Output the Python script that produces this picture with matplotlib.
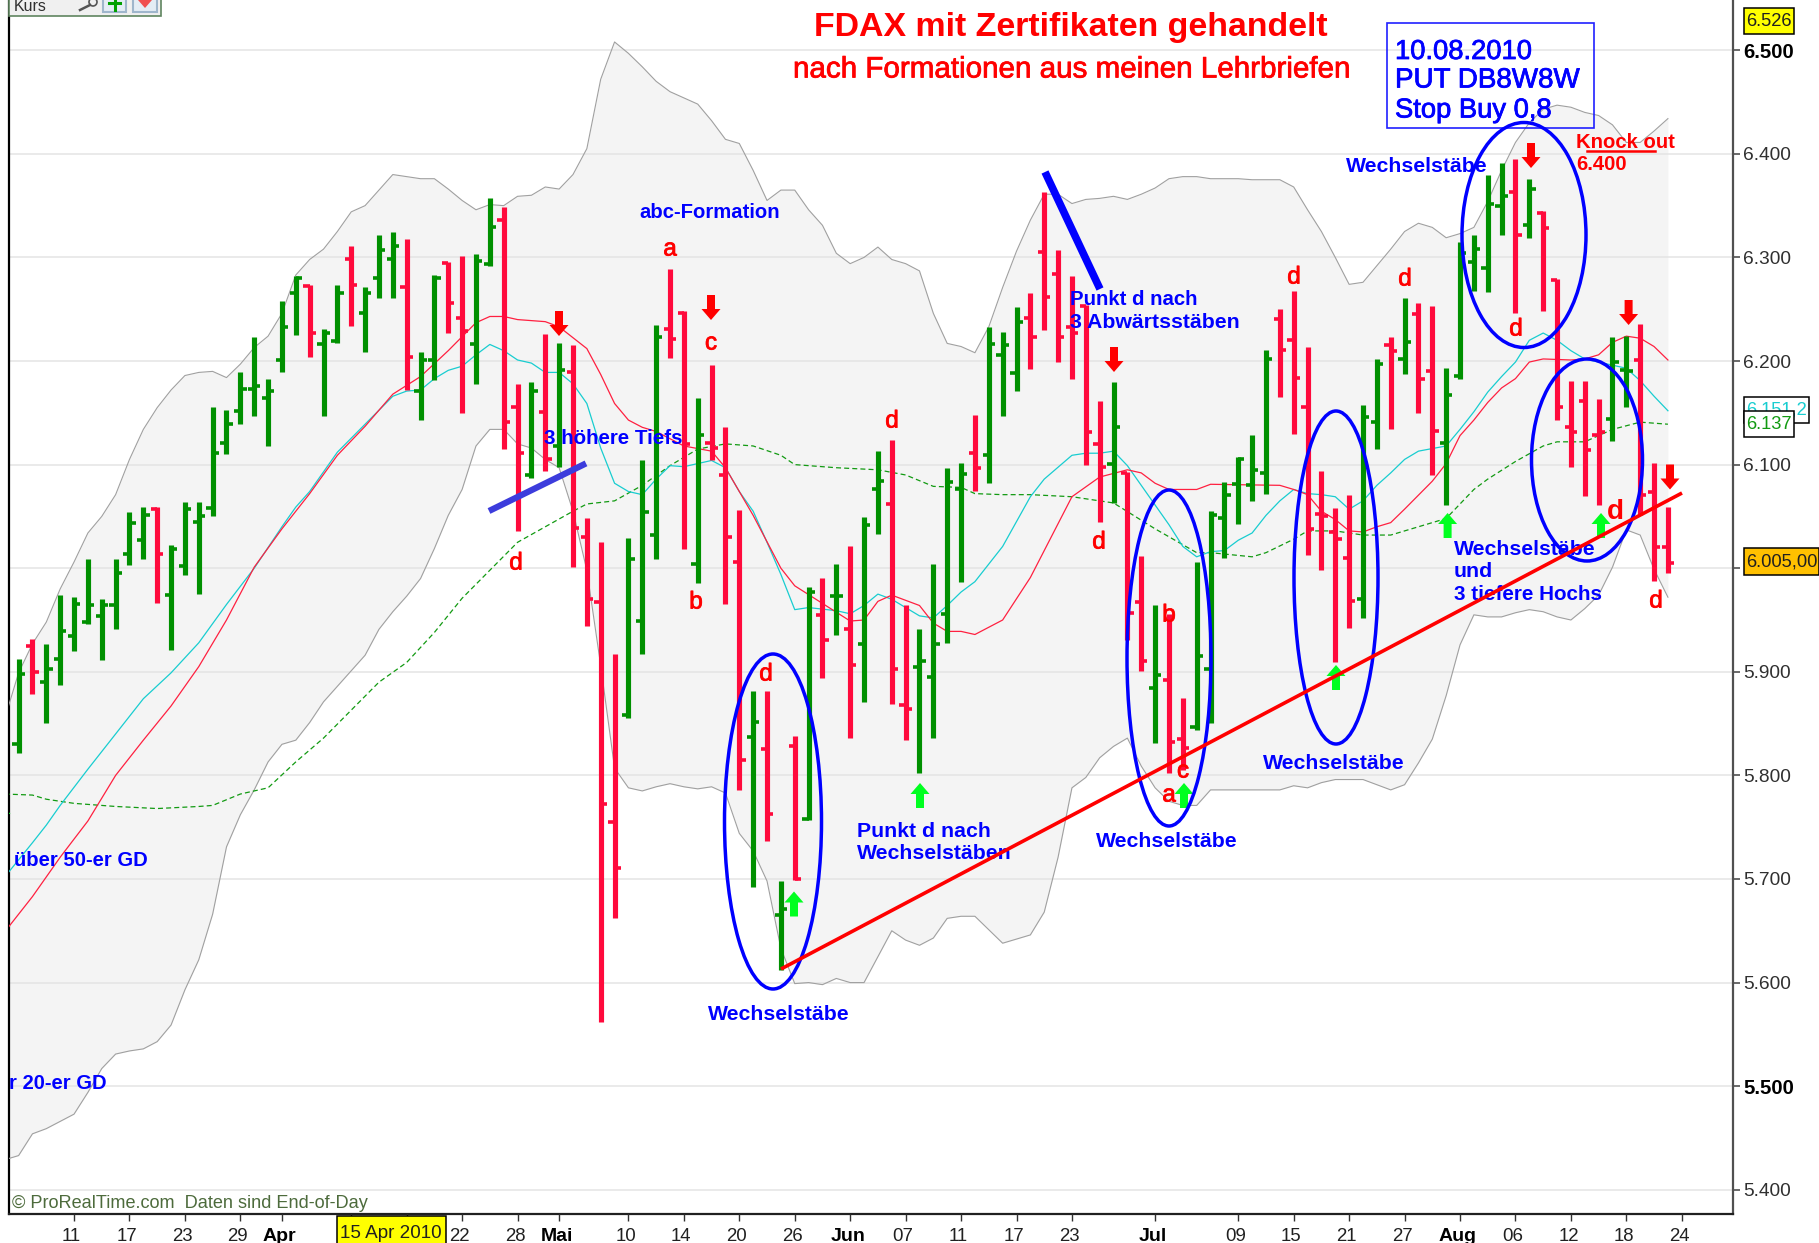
"""FDAX daily bars with moving averages, Bollinger band and hand-drawn trading notes (ProRealTime screenshot)."""
import numpy as np
import matplotlib; matplotlib.use("Agg")
import matplotlib.pyplot as plt
import matplotlib.patheffects as pe
from matplotlib.patches import Ellipse, Polygon, Rectangle, Circle
from matplotlib.transforms import ScaledTranslation

plt.rcParams["font.family"] = ["Liberation Sans", "DejaVu Sans"]

W, H = 1819, 1243
GREEN, RED, BLUE = "#009000", "#ff0a3c", "#0000ff"

opens = [5830, 5925, 5890, 5912, 5935, 5948, 5954, 5964, 6014, 6027,
         6057, 5974, 6002, 6045, 6058, 6121, 6152, 6173, 6164, 6201,
         6266, 6272, 6216, 6219, 6298, 6246, 6280, 6298, 6271, 6171,
         6201, 6295, 6242, 6216, 6294, 6336, 6156, 6090, 6151, 6118,
         6189, 6030, 5967, 5755, 5858, 5949, 6032, 6231, 6246, 6004,
         6121, 6090, 6006, 5837, 5825, 5665, 5828, 5758, 5955, 5973,
         5941, 5927, 6076, 6062, 5868, 5905, 5895, 5956, 6076, 6111,
         6109, 6206, 6188, 6242, 6305, 6284, 6233, 6253, 6120, 6101,
         6092, 5967, 5884, 5892, 5835, 5847, 5903, 6048, 6081, 6080,
         6092, 6241, 6220, 6156, 6052, 6035, 6010, 5970, 6141, 6215,
         6202, 6245, 6190, 6121, 6186, 6296, 6290, 6350, 6363, 6331,
         6343, 6278, 6136, 6161, 6129, 6144, 6191, 6201, 6074, 6020]
highs = [5912, 5932, 5927, 5974, 5972, 6009, 5970, 6009, 6054, 6059,
         6059, 6022, 6064, 6064, 6156, 6153, 6189, 6223, 6183, 6258,
         6282, 6273, 6231, 6273, 6311, 6271, 6322, 6325, 6318, 6209,
         6283, 6296, 6301, 6303, 6357, 6349, 6178, 6180, 6226, 6217,
         6215, 6048, 6025, 5917, 6029, 6104, 6235, 6289, 6248, 6164,
         6196, 6136, 6056, 5881, 5881, 5698, 5838, 5982, 5991, 6004,
         6021, 6049, 6113, 6124, 5964, 5941, 6004, 6097, 6102, 6148,
         6233, 6228, 6252, 6266, 6363, 6307, 6282, 6254, 6161, 6180,
         6093, 6012, 5964, 5956, 5875, 6006, 6055, 6083, 6107, 6129,
         6211, 6250, 6268, 6214, 6094, 6058, 6071, 6158, 6202, 6223,
         6261, 6256, 6253, 6193, 6315, 6322, 6380, 6391, 6395, 6376,
         6345, 6279, 6181, 6181, 6163, 6223, 6224, 6236, 6102, 6059]
lows = [5822, 5879, 5851, 5887, 5920, 5946, 5911, 5941, 6003, 6009,
        5966, 5921, 5993, 5975, 6050, 6110, 6139, 6147, 6118, 6189,
        6225, 6204, 6147, 6217, 6234, 6209, 6261, 6261, 6172, 6143,
        6182, 6227, 6150, 6178, 6292, 6115, 6036, 6087, 6094, 6098,
        6001, 5944, 5562, 5662, 5855, 5917, 6009, 6203, 6019, 5986,
        6104, 5965, 5786, 5692, 5737, 5612, 5699, 5757, 5894, 5936,
        5836, 5871, 6033, 5869, 5834, 5802, 5836, 5928, 5987, 6075,
        6082, 6147, 6171, 6192, 6230, 6199, 6183, 6100, 6045, 6063,
        5931, 5901, 5831, 5802, 5805, 5844, 5851, 6010, 6043, 6065,
        6072, 6165, 6130, 6013, 5998, 5909, 5942, 5952, 6115, 6134,
        6187, 6150, 6090, 6061, 6183, 6268, 6267, 6322, 6246, 6319,
        6248, 6143, 6098, 6070, 6061, 6123, 6156, 6051, 5988, 5995]
closes = [5898, 5900, 5903, 5939, 5965, 5964, 5964, 5995, 6044, 6051,
          6014, 6019, 6057, 6050, 6111, 6139, 6173, 6176, 6171, 6233,
          6280, 6227, 6227, 6266, 6273, 6266, 6307, 6311, 6204, 6201,
          6280, 6256, 6229, 6297, 6329, 6141, 6111, 6171, 6105, 6191,
          6039, 5970, 5772, 5711, 6009, 6054, 6223, 6221, 6120, 6129,
          6116, 6030, 5815, 5852, 5763, 5671, 5700, 5977, 5931, 5973,
          5907, 6042, 6084, 5903, 5864, 5910, 5927, 6083, 6091, 6097,
          6216, 6215, 6238, 6223, 6262, 6223, 6227, 6131, 6098, 6136,
          5957, 5910, 5897, 5832, 5826, 5915, 6051, 6071, 6105, 6095,
          6202, 6211, 6184, 6038, 6050, 6028, 5968, 6146, 6197, 6210,
          6218, 6183, 6132, 6167, 6304, 6308, 6352, 6359, 6322, 6366,
          6328, 6156, 6131, 6114, 6131, 6199, 6190, 6071, 6020, 6005]
down_bars = [1, 10, 21, 24, 28, 31, 32, 35, 36, 38, 40, 41, 42, 43, 47, 48, 50, 51, 52, 54, 56, 58, 60,
             63, 64, 69, 73, 74, 75, 76, 77, 78, 80, 81, 83, 84, 91, 92, 93, 94, 95, 96, 99, 101, 102,
             108, 110, 111, 112, 113, 114, 117, 118, 119]

# bollinger band, one value per bar starting one bar left of the first
band_upper = [5855, 5899, 5927, 5948, 5980, 6006, 6034, 6050, 6071, 6105, 6134,
              6155, 6172, 6186, 6189, 6190, 6184, 6197, 6213, 6224, 6246,
              6283, 6298, 6308, 6325, 6344, 6350, 6365, 6380, 6378, 6376,
              6376, 6366, 6355, 6346, 6351, 6350, 6359, 6360, 6368, 6366,
              6380, 6405, 6472, 6508, 6497, 6484, 6470, 6460, 6454, 6448,
              6432, 6414, 6410, 6384, 6355, 6365, 6365, 6346, 6331, 6304,
              6294, 6300, 6310, 6298, 6294, 6287, 6246, 6217, 6214, 6208,
              6233, 6271, 6306, 6336, 6361, 6361, 6352, 6356, 6357, 6359,
              6356, 6361, 6367, 6376, 6378, 6378, 6376, 6376, 6376, 6375,
              6375, 6375, 6368, 6346, 6325, 6300, 6274, 6276, 6292, 6308,
              6325, 6333, 6329, 6319, 6323, 6329, 6354, 6384, 6411, 6430,
              6443, 6447, 6445, 6440, 6437, 6428, 6411, 6411, 6422, 6434]
band_lower = [5429, 5433, 5454, 5459, 5466, 5473, 5494, 5517, 5531, 5534, 5536,
              5543, 5559, 5593, 5622, 5666, 5731, 5762, 5786, 5813, 5830,
              5834, 5851, 5871, 5886, 5901, 5916, 5941, 5958, 5973, 5990,
              6019, 6051, 6076, 6118, 6134, 6134, 6120, 6116, 6105, 6097,
              6055, 5998, 5906, 5807, 5788, 5785, 5789, 5792, 5789, 5787,
              5789, 5783, 5744, 5727, 5698, 5633, 5599, 5600, 5598, 5604,
              5600, 5600, 5625, 5650, 5641, 5636, 5643, 5662, 5664, 5664,
              5651, 5638, 5642, 5646, 5668, 5721, 5788, 5798, 5817, 5828,
              5836, 5809, 5788, 5775, 5771, 5771, 5786, 5786, 5786, 5786,
              5786, 5786, 5790, 5788, 5793, 5796, 5796, 5796, 5791, 5786,
              5791, 5812, 5835, 5877, 5926, 5955, 5953, 5953, 5957, 5960,
              5958, 5953, 5950, 5961, 5974, 6001, 6037, 6032, 5999, 5972]

red_x = [-1, 1, 3, 5, 7, 9, 11, 13, 15, 17, 19, 21, 23, 25, 27, 29, 31, 33, 34, 35, 36, 38, 39, 41, 42, 43,
         44, 45, 46, 48, 50, 51, 52, 53, 55, 56, 58, 60, 61, 62, 63, 65, 66, 67, 68, 69, 71, 73, 76, 78, 80,
         81, 82, 83, 85, 86, 91, 92, 93, 94, 95, 96, 97, 98, 99, 100, 102, 103, 104, 105, 106, 107, 108,
         109, 110, 112, 113, 114, 115, 116, 117, 118, 119]
red_ma = [5649, 5683, 5721, 5756, 5800, 5834, 5867, 5905, 5950, 6001, 6038, 6072, 6109, 6137, 6168, 6185,
          6210, 6237, 6243, 6243, 6240, 6238, 6233, 6212, 6187, 6159, 6143, 6136, 6132, 6118, 6113, 6097,
          6074, 6051, 6000, 5983, 5966, 5949, 5950, 5968, 5974, 5964, 5947, 5939, 5939, 5936, 5950, 5991,
          6069, 6088, 6095, 6092, 6082, 6076, 6076, 6081, 6080, 6076, 6071, 6055, 6047, 6036, 6035, 6040,
          6044, 6057, 6084, 6101, 6128, 6143, 6160, 6174, 6183, 6199, 6202, 6201, 6202, 6206, 6218, 6224,
          6222, 6214, 6201]
cyan_x = [-1, 1, 2, 3, 5, 7, 9, 11, 13, 15, 17, 19, 20, 21, 23, 25, 27, 28, 29, 30, 31, 32, 33, 34, 35, 36,
          37, 38, 39, 40, 41, 42, 43, 44, 45, 46, 47, 48, 49, 50, 51, 52, 53, 54, 55, 56, 57, 59, 60, 61,
          62, 63, 64, 65, 66, 67, 68, 69, 71, 73, 74, 76, 77, 78, 79, 80, 81, 82, 83, 84, 85, 86, 87, 88,
          89, 90, 91, 92, 93, 94, 95, 96, 97, 98, 99, 100, 101, 103, 104, 105, 106, 107, 108, 109, 110,
          111, 112, 113, 114, 115, 116, 117, 118, 119]
cyan_ma = [5702, 5735, 5752, 5771, 5806, 5840, 5874, 5899, 5928, 5965, 6000, 6040, 6059, 6074, 6112, 6139,
           6166, 6171, 6172, 6183, 6191, 6195, 6206, 6216, 6210, 6201, 6198, 6189, 6189, 6178, 6159, 6116,
           6082, 6074, 6071, 6086, 6099, 6098, 6101, 6104, 6097, 6074, 6055, 6025, 5994, 5960, 5962, 5959,
           5956, 5964, 5975, 5970, 5962, 5954, 5952, 5964, 5977, 5987, 6021, 6069, 6086, 6109, 6111, 6111,
           6113, 6099, 6080, 6061, 6042, 6021, 6011, 6016, 6017, 6027, 6034, 6051, 6065, 6076, 6072, 6071,
           6069, 6057, 6065, 6080, 6092, 6105, 6113, 6118, 6134, 6151, 6170, 6185, 6199, 6220, 6227, 6220,
           6210, 6202, 6199, 6196, 6193, 6181, 6166, 6152]
green_x = [-1, 1, 2, 4, 7, 10, 13, 14, 16, 18, 20, 22, 24, 26, 28, 30, 32, 34, 36, 38, 40, 41, 43, 45, 47,
           49, 51, 53, 55, 56, 59, 62, 64, 66, 68, 69, 71, 73, 76, 79, 82, 85, 86, 89, 90, 92, 93, 95, 97,
           99, 101, 103, 105, 106, 108, 110, 111, 113, 115, 117, 119]
green_ma = [5782, 5781, 5777, 5773, 5770, 5768, 5770, 5771, 5782, 5788, 5813, 5836, 5863, 5890, 5909, 5938,
            5971, 5998, 6025, 6040, 6055, 6062, 6065, 6080, 6099, 6115, 6120, 6118, 6109, 6100, 6097, 6095,
            6090, 6079, 6078, 6072, 6071, 6071, 6069, 6063, 6038, 6015, 6015, 6011, 6015, 6028, 6036, 6036,
            6032, 6032, 6040, 6048, 6076, 6086, 6103, 6118, 6122, 6122, 6134, 6141, 6139]

y_ticks = [6500, 6400, 6300, 6200, 6100, 6000, 5900, 5800, 5700, 5600, 5500, 5400]
y_labels = ["6.500", "6.400", "6.300", "6.200", "6.100", "", "5.900", "5.800", "5.700", "5.600", "5.500", "5.400"]
x_ticks = [4, 8, 12, 16, 19, 24, 28, 32, 36, 39, 44, 48, 52, 56, 60, 64, 68, 72, 76, 82, 88, 92, 96, 100,
           104, 108, 112, 116, 120]
x_labels = ["11", "17", "23", "29", "Apr", "", "", "22", "28", "Mai", "10", "14", "20", "26", "Jun", "07", "11",
            "17", "23", "Jul", "09", "15", "21", "27", "Aug", "06", "12", "18", "24"]
months = ["Apr", "Mai", "Jun", "Jul", "Aug"]

fig = plt.figure(figsize=(W / 100, H / 100), dpi=100, facecolor="white")
ax = fig.add_axes([8.7 / W, (H - 1214) / H, (1732.5 - 8.7) / W, 1214 / H])
ax.set_xlim(-0.714, 123.66)
ax.set_ylim(5376.6, 6548.5)
ax.set_axisbelow(False)

band_x = np.arange(-1, 120)
ax.fill_between(band_x, band_lower, band_upper, color="#f4f4f4", lw=0, zorder=1)
ax.plot(band_x, band_upper, color="#a0a0a0", lw=0.8, zorder=3)
ax.plot(band_x, band_lower, color="#a0a0a0", lw=0.8, zorder=3)
for t in y_ticks:
    ax.axhline(t, color="#e4e4e4", lw=1.1, zorder=2)

ax.plot(green_x, green_ma, color="#129a12", lw=0.9, ls=(0, (4, 2.5)), zorder=4)
ax.plot(cyan_x, cyan_ma, color="#18cdd0", lw=0.9, zorder=4)
ax.plot(red_x, red_ma, color="#ff2040", lw=0.9, zorder=4)

x = np.arange(len(opens))
cols = [RED if i in down_bars else GREEN for i in x]
ax.vlines(x, lows, highs, colors=cols, lw=3.7, capstyle="butt", zorder=5)
ax.hlines(opens, x - 0.45, x, colors=cols, lw=2.6, capstyle="butt", zorder=5)
ax.hlines(closes, x, x + 0.45, colors=cols, lw=2.6, capstyle="butt", zorder=5)

ax.spines["top"].set_visible(False)
ax.spines["left"].set_linewidth(1.6)
ax.spines["bottom"].set_linewidth(1.6)
ax.spines["bottom"].set_color("#202020")
ax.spines["right"].set_linewidth(1.6)
ax.spines["right"].set_color("#505050")

ax.yaxis.tick_right()
ax.set_yticks(y_ticks, y_labels)
ax.tick_params(axis="y", length=5, width=1.2, color="#505050", labelsize=13.8, labelcolor="#303030", pad=2.8)
for lab, t in zip(ax.get_yticklabels(), y_ticks):
    if t in (6500, 5500):
        lab.set_fontweight("bold")
        lab.set_fontsize(14.6)
        lab.set_color("black")
ax.set_xticks(x_ticks, x_labels)
ax.tick_params(axis="x", length=5, width=1.0, color="#303030", labelsize=13.4, labelcolor="#202020", pad=5)
shift = ScaledTranslation(-2.5 / 100, 0, fig.dpi_scale_trans)
for lab in ax.get_xticklabels():
    lab.set_transform(lab.get_transform() + shift)
    if lab.get_text() in months:
        lab.set_fontweight("bold")
        lab.set_fontsize(14)
        lab.set_color("black")

# everything drawn by hand on the screenshot goes on an overlay in pixels
ov = fig.add_axes([0, 0, 1, 1], zorder=10)
ov.set_xlim(0, W)
ov.set_ylim(H, 0)
ov.axis("off")


def note(s, px, py, size=15.3, color=BLUE, weight="bold", ha="left", heavy=False):
    t = ov.text(px, py + 2.5, s, color=color, fontsize=size, fontweight=weight, ha=ha, va="center")
    if heavy:
        t.set_path_effects([pe.withStroke(linewidth=0.55, foreground=color)])


def arrow(px, tip, down=True, color="#ff0000", clip=False):
    d = -1 if down else 1
    pts = [(px, tip), (px - 9.5, tip + d * 11), (px - 4, tip + d * 11), (px - 4, tip + d * 25),
           (px + 4, tip + d * 25), (px + 4, tip + d * 11), (px + 9.5, tip + d * 11)]
    p = Polygon(pts, closed=True, fc=color, ec="none", zorder=6)
    ov.add_patch(p)
    if clip:
        p.set_clip_path(ax.patch)


# top-left toolbar stub
ov.add_patch(Rectangle((9, -4), 152, 20, fc="#f0f0f0", ec="#5f855f", lw=1.2))
note("Kurs", 14, 4, size=11.5, color="#303030", weight="normal")
ov.add_patch(Circle((93, 2), 4, fc="none", ec="#555555", lw=1.2))
ov.plot([90, 80], [5, 10], color="#555555", lw=1.8)
ov.add_patch(Rectangle((103, -3), 23, 15, fc="#e4edf5", ec="#9fb6cc", lw=1.5))
ov.add_patch(Rectangle((133, -3), 24, 15, fc="#e4edf5", ec="#9fb6cc", lw=1.5))
ov.plot([114.5, 114.5], [-1, 10], color="#00a000", lw=2.2)
ov.plot([109, 120], [3, 3], color="#00a000", lw=2.2)
ov.add_patch(Polygon([(138, 0), (152, 0), (145, 8)], fc="#f05050", ec="none"))

note("FDAX mit Zertifikaten gehandelt", 814, 25, size=24.4, color="#ff0000")
note("nach Formationen aus meinen Lehrbriefen", 793, 67, size=21.3, color="#ff0000", weight="normal", heavy=True)

ov.add_patch(Rectangle((1387, 22.5), 207, 105.5, fc="none", ec="#2020ff", lw=1.2, zorder=5))
note("10.08.2010", 1395, 49.5, size=19.7, weight="normal", heavy=True)
note("PUT DB8W8W", 1395, 78, size=20, weight="normal", heavy=True)
note("Stop Buy 0,8", 1395, 108, size=19.7, weight="normal", heavy=True)

note("abc-Formation", 639, 210, size=14.6)
note("3 höhere Tiefs", 544, 436, size=14.8)
note("Punkt d nach", 1070, 297, size=14.7)
note("3 Abwärtsstäben", 1070, 320)
note("über 50-er GD", 14, 858, size=14.6)
note("r 20-er GD", 9, 1081, size=14.5)
note("Wechselstäbe", 707.5, 1012)
note("Punkt d nach", 857, 829)
note("Wechselstäben", 857, 851)
note("Wechselstäbe", 1096, 839)
note("Wechselstäbe", 1263, 761)
note("Wechselstäbe", 1346, 164)
note("Wechselstäbe", 1454, 547)
note("und", 1454, 569)
note("3 tiefere Hochs", 1454, 592, size=14.9)
note("Knock out", 1576, 140, size=14.6, color="#ff0000")
note("6.400", 1576, 162, size=14.6, color="#ff0000")
ov.plot([1587, 1655], [150.6, 150.6], color="#ff0000", lw=1.8)

abc_letters = [("d", 516, 561), ("a", 670, 247), ("c", 711, 341), ("d", 892, 419), ("b", 696, 600),
               ("d", 1099, 540), ("d", 766, 672), ("b", 1169, 613), ("c", 1183, 769), ("a", 1169, 793),
               ("d", 1294, 275), ("d", 1405, 277), ("d", 1516, 327), ("d", 1656, 599)]
for s, px, py in abc_letters:
    note(s, px, py, size=17.5, color="#ff0000", weight="normal", ha="center", heavy=True)
note("d", 1615, 509, size=20, color="#ff0000", ha="center")

for px, tip in [(559, 336), (711, 320), (1114, 372), (1531, 168), (1628.6, 325), (1670, 489.5)]:
    arrow(px, tip)
for px, tip in [(794, 891.5), (920, 783), (1184, 783), (1336, 665), (1447.6, 513), (1601, 513)]:
    arrow(px, tip, down=False, color="#00ff20")
arrow(1, 803, down=False, color="#00ff20", clip=True)

for cx, cy, ew, eh in [(773, 821.5, 97, 335), (1169, 658, 84, 336), (1336, 577.5, 84, 333),
                       (1524, 235, 124, 225), (1587, 460, 111, 202)]:
    ov.add_patch(Ellipse((cx, cy), ew, eh, fc="none", ec=BLUE, lw=2.5, zorder=7))

ov.plot([489, 586], [511, 463.4], color="#3c3cdc", lw=4.5, solid_capstyle="butt", zorder=7)
ov.plot([1045, 1100], [172, 289], color=BLUE, lw=5.5, solid_capstyle="butt", zorder=7)
ov.plot([781, 1682], [969, 493], color="#ff0000", lw=2.6, solid_capstyle="butt", zorder=7)


# price flags on the right axis and the date flag below
def flag(px0, px1, py0, py1, s, fc, tc, size=13.2, z=8):
    ov.add_patch(Rectangle((px0, py0), px1 - px0, py1 - py0, fc=fc, ec="black", lw=1.1, zorder=z))
    ov.text(px0 + 2.5, (py0 + py1) / 2, s, color=tc, fontsize=size, ha="left", va="center", zorder=z + 0.5)


flag(1743.6, 1794, 8, 34.4, "6.526", "#ffff00", "#202020")
flag(1743.6, 1809, 397, 423, "6.151,2", "white", "#18cdd0")
flag(1743.6, 1794, 411, 437, "6.137", "white", "#129a12", z=9)
flag(1743.6, 1819, 548, 575, "6.005,00", "#ffc000", "#202020")
flag(337, 446, 1216, 1252, "15 Apr 2010", "#ffff00", "#202020", size=13.6)

note("© ProRealTime.com  Daten sind End-of-Day", 12, 1200.5, size=13.1, color="#4d6b3c", weight="normal")

fig.savefig("out.png", dpi=100)
